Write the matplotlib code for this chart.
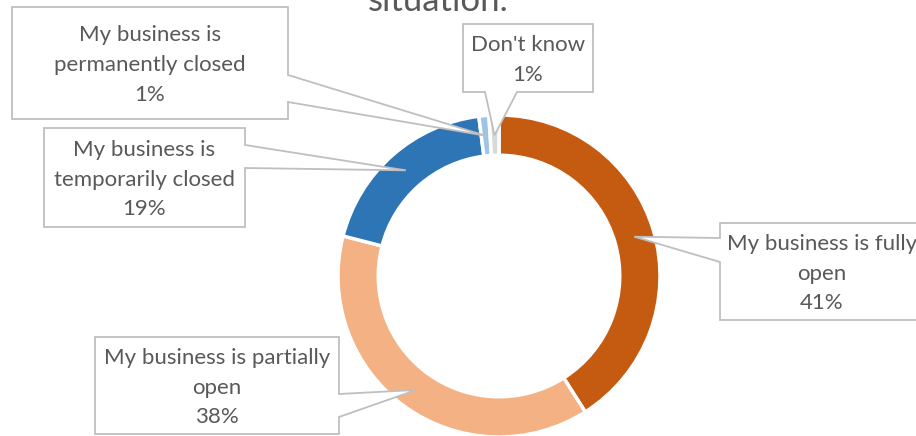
import numpy as np
import matplotlib
matplotlib.use("Agg")
import matplotlib.pyplot as plt
from matplotlib.patches import Polygon

W, H = 916, 436

labels = ["My business is fully\nopen", "My business is partially\nopen",
          "My business is\ntemporarily closed", "My business is\npermanently closed",
          "Don't know"]
values = [41, 38, 19, 1, 1]
colors = ["#C55A11", "#F4B183", "#2E75B6", "#9DC3E6", "#D9D9D9"]

# callout boxes in pixels (x0, y0, x1, y1), pointer side, pointer base, text x
boxes = [
    ((720, 223, 930, 320), "left", (238, 262), 822),
    ((95, 337, 339, 434), "right", (394, 417), None),
    ((44, 128, 245, 227), "right", (145, 168), None),
    ((12, 7, 288, 119), "right", (75, 102), None),
    ((463, 24, 593, 92), "bottom", (485, 517), None),
]

plt.rcParams['font.family'] = ['Lato', 'DejaVu Sans']
fig = plt.figure(figsize=(W / 100, H / 100), dpi=100)

cx, cy, R = 499, 276, 161
ax = fig.add_axes([(cx - R) / W, (H - cy - R) / H, 2 * R / W, 2 * R / H])
ring = 0.25
wedges, _ = ax.pie(values, colors=colors, startangle=90, counterclock=False,
                   radius=1, wedgeprops=dict(width=ring, edgecolor="white", linewidth=2.5))
ax.set_xlim(-1, 1)
ax.set_ylim(-1, 1)
ax.axis("off")

ov = fig.add_axes([0, 0, 1, 1], zorder=5)
ov.set_xlim(0, W)
ov.set_ylim(H, 0)
ov.axis("off")
ov.patch.set_alpha(0)

fig.canvas.draw()
total = sum(values)
cum = 0
for i, v in enumerate(values):
    mid = np.deg2rad(90 - (cum + v / 2) / total * 360)
    cum += v
    rm = 1 - ring / 2
    px, py = ax.transData.transform((rm * np.cos(mid), rm * np.sin(mid)))
    tip = (px, H - py)
    (x0, y0, x1, y1), side, (a, b), tx = boxes[i]
    if side == "left":
        pts = [(x0, y0), (x1, y0), (x1, y1), (x0, y1), (x0, b), tip, (x0, a)]
    elif side == "right":
        pts = [(x0, y0), (x1, y0), (x1, a), tip, (x1, b), (x1, y1), (x0, y1)]
    else:
        pts = [(x0, y0), (x1, y0), (x1, y1), (b, y1), tip, (a, y1), (x0, y1)]
    ov.add_patch(Polygon(pts, closed=True, facecolor="white", edgecolor="#BFBFBF",
                         linewidth=1.3, clip_on=False))
    xc = tx if tx is not None else (x0 + x1) / 2
    ov.text(xc, (y0 + y1) / 2 + 2, "%s\n%d%%" % (labels[i], v), ha="center", va="center",
            fontsize=16, color="#595959", linespacing=1.62)

ov.text(438, 11, "situation.", ha="center", va="baseline", fontsize=25,
        color="#595959", clip_on=False)

fig.savefig("out.png", dpi=100)
